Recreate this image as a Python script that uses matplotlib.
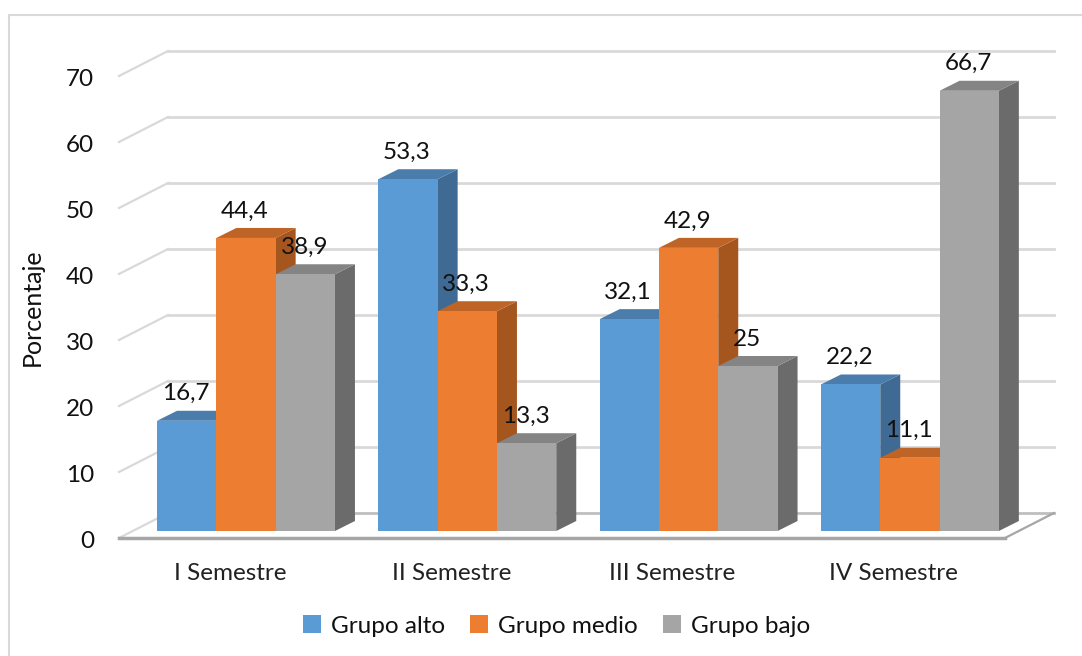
import matplotlib
matplotlib.use('Agg')
import matplotlib.pyplot as plt
from matplotlib.patches import Polygon, Rectangle, Patch

plt.rcParams['font.family'] = ['Lato', 'DejaVu Sans']

semestres = ['I Semestre', 'II Semestre', 'III Semestre', 'IV Semestre']
grupos = ['Grupo alto', 'Grupo medio', 'Grupo bajo']
alto = [16.7, 53.3, 32.1, 22.2]
medio = [44.4, 33.3, 42.9, 11.1]
bajo = [38.9, 13.3, 25, 66.7]
etiquetas = [['16,7', '53,3', '32,1', '22,2'],
             ['44,4', '33,3', '42,9', '11,1'],
             ['38,9', '13,3', '25', '66,7']]
yticks = [0, 10, 20, 30, 40, 50, 60, 70]

colores = ['#5B9BD5', '#ED7D31', '#A5A5A5']
arriba = ['#4A7DAB', '#BE6427', '#848484']
lado = ['#3F6A94', '#A5561F', '#6B6B6B']

# one x unit is a category step (221.3 px), one y unit is 1 % (6.6 px)
px_x = 1 / 221.3
px_y = 1 / 6.6
w = 59.3 * px_x
dx, dy = 20 * px_x, 10 * px_y
fs = 17.5

fig = plt.figure(figsize=(10.82, 6.56), dpi=100)
ax = fig.add_axes([0, 0, 1, 1])
ax.set_xlim(-246 * px_x, (1082 - 246) * px_x)
ax.set_ylim(-125 * px_y, 531 * px_y)
ax.axis('off')

# chart border, right and bottom sides fall outside the picture
ax.add_patch(Rectangle((-237.5 * px_x, -140 * px_y), 1100 * px_x, 656 * px_y,
                       fill=False, ec='#D9D9D9', lw=1.5, zorder=0))

# floor and wall positions relative to the bars
x_izq = -127 * px_x    # front left of the floor
x_der = 759 * px_x     # front right of the floor
y_front = -7 * px_y
fondo_x, fondo_y = 49 * px_x, 25 * px_y

gris = '#D9D9D9'
for t in yticks:
    y0 = y_front + t
    ax.plot([x_izq, x_izq + fondo_x], [y0, y0 + fondo_y], color=gris, lw=1.6, zorder=1)
    ax.plot([x_izq + fondo_x, x_der + fondo_x], [y0 + fondo_y, y0 + fondo_y],
            color='#BFBFBF' if t == 0 else gris, lw=2, zorder=1)
    ax.text(x_izq - 25 * px_x, y0 - 4 * px_y, str(t), ha='right', va='center', fontsize=fs,
            color='#111111')

ax.plot([x_der, x_der + fondo_x], [y_front, y_front + fondo_y], color='#A6A6A6', lw=1.6, zorder=2)
ax.plot([x_izq, x_der], [y_front, y_front], color='#A6A6A6', lw=2.5, zorder=2)

series = [alto, medio, bajo]
z = 3
for g in range(len(semestres)):
    for s, valores in enumerate(series):
        v = valores[g]
        x0 = g + (s - 1.5) * w
        x1 = x0 + w
        ax.add_patch(Polygon([(x1, 0), (x1 + dx, dy), (x1 + dx, v + dy), (x1, v)],
                             fc=lado[s], ec='none', zorder=z))
        ax.add_patch(Polygon([(x0, v), (x0 + dx, v + dy), (x1 + dx, v + dy), (x1, v)],
                             fc=arriba[s], ec='none', zorder=z))
        ax.bar(x0, v, width=w, align='edge', color=colores[s], zorder=z + 1)
        z += 2

for s, valores in enumerate(series):
    for g, v in enumerate(valores):
        ax.text(g + (s - 1) * w - 1 * px_x, v + 27 * px_y, etiquetas[s][g], ha='center', va='center',
                fontsize=fs, color='#111111', zorder=100)

for g, nombre in enumerate(semestres):
    ax.text(g - 16 * px_x, -42 * px_y, nombre, ha='center', va='center', fontsize=fs,
            color='#222222')

ax.text(-214 * px_x, 224 * px_y, 'Porcentaje', rotation=90, ha='center', va='center',
        fontsize=fs + 0.5, color='#111111')

handles = [Patch(fc=c, ec='none') for c in colores]
fig.legend(handles, grupos, loc='center', bbox_to_anchor=(0.5145, 0.0457), ncol=3, frameon=False,
           fontsize=fs, handlelength=0.72, handleheight=0.72, handletextpad=0.42,
           columnspacing=1.05, labelcolor='#111111')

fig.savefig('out.png', dpi=100)
